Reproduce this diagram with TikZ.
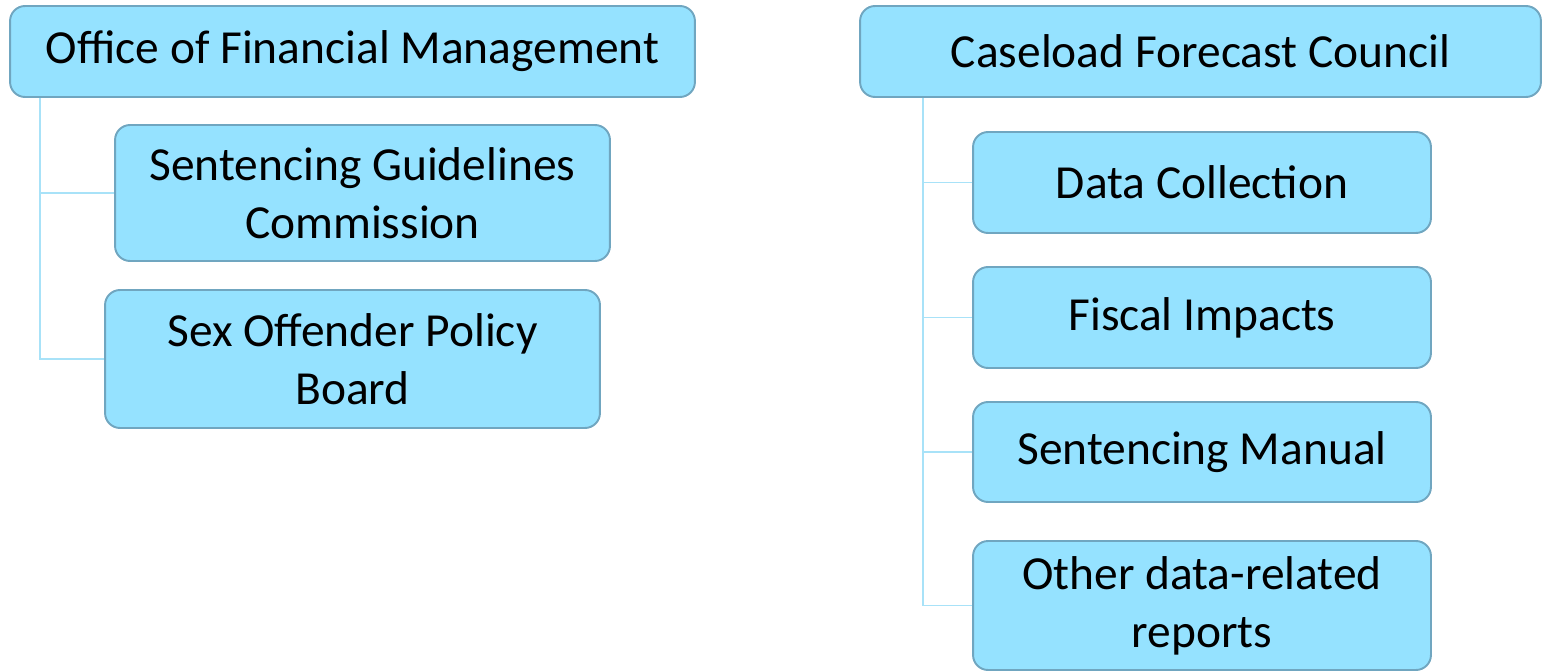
\documentclass[tikz,border=0pt]{standalone}
\usepackage{fontspec}
\setmainfont{Carlito}
\usetikzlibrary{positioning}
\definecolor{boxfill}{RGB}{149,226,255}
\definecolor{boxline}{RGB}{112,166,192}
\definecolor{linkline}{RGB}{168,226,248}
\begin{document}
\begin{tikzpicture}[x=0.02cm,y=-0.02cm,main node/.style={draw=boxline,line width=1.1pt,fill=boxfill,rounded corners=0.3cm,align=center,inner sep=0pt,font=\fontsize{27}{33}\selectfont},link/.style={draw=linkline,line width=0.9pt}]
\useasboundingbox (0,0) rectangle (1542,672);
% left tree
\node[main node,minimum width=13.7cm,minimum height=1.82cm] (ofm) at (352.5,51.5) {Office of Financial Management};
\node[main node,minimum width=9.9cm,minimum height=2.72cm] (sgc) at (362.5,193) {Sentencing Guidelines\\Commission};
\node[main node,minimum width=9.9cm,minimum height=2.76cm] (sopb) at (352.5,359) {Sex Offender Policy\\Board};
% right tree
\node[main node,minimum width=13.62cm,minimum height=1.82cm] (cfc) at (1200.5,51.5) {Caseload Forecast Council};
\node[main node,minimum width=9.16cm,minimum height=2.02cm] (data) at (1202,182.5) {Data Collection};
\node[main node,minimum width=9.16cm,minimum height=2.02cm] (fiscal) at (1202,317.5) {Fiscal Impacts};
\node[main node,minimum width=9.16cm,minimum height=2.0cm] (manual) at (1202,452) {Sentencing Manual};
\node[main node,minimum width=9.16cm,minimum height=2.58cm] (other) at (1202,605.5) {Other data-related\\reports};
\foreach \n in {sgc,sopb}
  \path[link] ([xshift=0.62cm]ofm.south west) |- (\n.west);
\foreach \n in {data,fiscal,manual,other}
  \path[link] ([xshift=1.28cm]cfc.south west) |- (\n.west);
\end{tikzpicture}
\end{document}
